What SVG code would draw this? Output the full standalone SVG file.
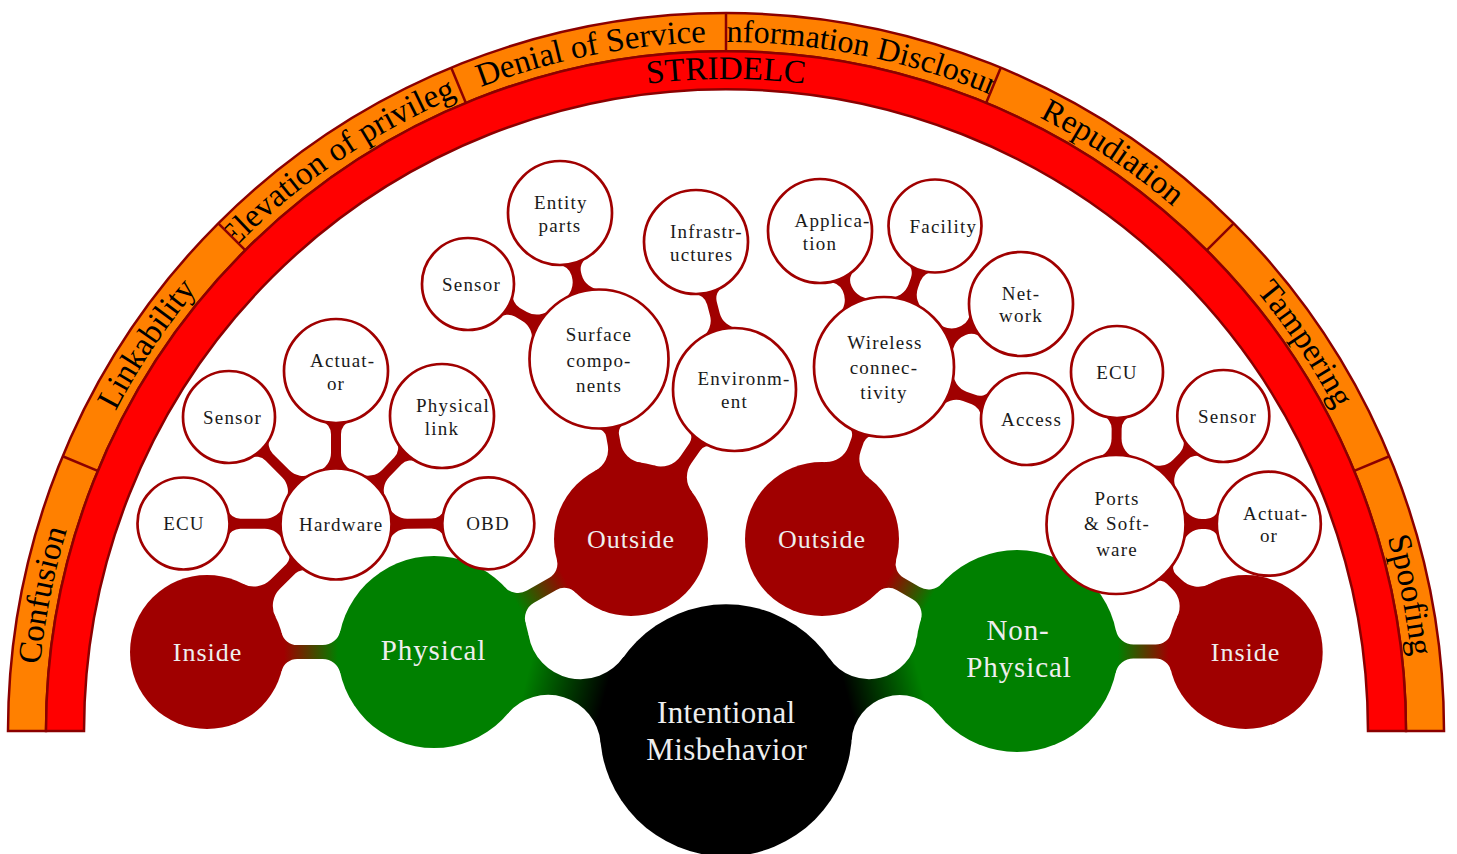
<svg xmlns="http://www.w3.org/2000/svg" width="1457" height="854" viewBox="0 0 1457 854">
<style>
.band-o{fill:#ff8000;stroke:#8b0000;stroke-width:2.5}
.band-r{fill:#ff0000;stroke:#8b0000;stroke-width:2.5}
.sep{stroke:#8b0000;stroke-width:2.5;fill:none}
.rt{font-family:"Liberation Serif",serif;font-size:33px;fill:#000}
.cn{fill:#a00000}
.leaf{fill:#fff;stroke:#a00000;stroke-width:2.7}
.dark{fill:#a00000}
.green{fill:#008000}
.root{fill:#000}
.lt{font-family:"Liberation Serif",serif;font-size:19px;fill:#1a1a1a;letter-spacing:1.2px}
.m{text-anchor:middle}
.dt{font-family:"Liberation Serif",serif;font-size:26px;fill:#eeeeee;letter-spacing:1px;text-anchor:middle}
.gt{font-family:"Liberation Serif",serif;font-size:29px;fill:#eeeeee;letter-spacing:0.9px;text-anchor:middle}
.rtt{font-family:"Liberation Serif",serif;font-size:31px;fill:#eeeeee;letter-spacing:0.4px;text-anchor:middle}
</style>
<defs>
<path id="tp0" d="M 37,731 A 689 689 0 0 1 89.45,467.33"/>
<path id="tp1" d="M 89.45,467.33 A 689 689 0 0 1 238.8,243.8"/>
<path id="tp2" d="M 238.8,243.8 A 689 689 0 0 1 462.33,94.45"/>
<path id="tp3" d="M 462.33,94.45 A 689 689 0 0 1 726,42"/>
<path id="tp4" d="M 726,42 A 689 689 0 0 1 989.67,94.45"/>
<path id="tp5" d="M 989.67,94.45 A 689 689 0 0 1 1213.2,243.8"/>
<path id="tp6" d="M 1213.2,243.8 A 689 689 0 0 1 1362.55,467.33"/>
<path id="tp7" d="M 1362.55,467.33 A 689 689 0 0 1 1415,731"/>
<path id="tpS" d="M 400,166.35 A 652 652 0 0 1 1052,166.35"/>
<clipPath id="clipE"><path d="M 218.3,223.3 A 718 718 0 0 1 451.24,67.65 L 465.78,102.76 A 680 680 0 0 0 245.17,250.17 Z"/></clipPath>
<clipPath id="clipI"><path d="M 726,13 A 718 718 0 0 1 1000.76,67.65 L 986.22,102.76 A 680 680 0 0 0 726,51 Z"/></clipPath>
<linearGradient id="g1" gradientUnits="userSpaceOnUse" x1="126" y1="0" x2="206" y2="0"><stop offset="0" stop-color="#000"/><stop offset="1" stop-color="#008000"/></linearGradient>
<linearGradient id="g2" gradientUnits="userSpaceOnUse" x1="126" y1="0" x2="200.6" y2="0"><stop offset="0" stop-color="#000"/><stop offset="1" stop-color="#008000"/></linearGradient>
<linearGradient id="g3" gradientUnits="userSpaceOnUse" x1="96" y1="0" x2="150" y2="0"><stop offset="0" stop-color="#008000"/><stop offset="1" stop-color="#a00000"/></linearGradient>
<linearGradient id="g4" gradientUnits="userSpaceOnUse" x1="96" y1="0" x2="150.1" y2="0"><stop offset="0" stop-color="#008000"/><stop offset="1" stop-color="#a00000"/></linearGradient>
<linearGradient id="g5" gradientUnits="userSpaceOnUse" x1="101" y1="0" x2="147.9" y2="0"><stop offset="0" stop-color="#008000"/><stop offset="1" stop-color="#a00000"/></linearGradient>
<linearGradient id="g6" gradientUnits="userSpaceOnUse" x1="101" y1="0" x2="151.7" y2="0"><stop offset="0" stop-color="#008000"/><stop offset="1" stop-color="#a00000"/></linearGradient>
</defs>

<g id="ring">
<path class="band-o" d="M 8,731 A 718 718 0 0 1 1444,731 L 1406,731 A 680 680 0 0 0 46,731 Z"/>
<path class="band-r" d="M 46,731 A 680 680 0 0 1 1406,731 L 1368,731 A 642 642 0 0 0 84,731 Z"/>
<text class="rt" text-anchor="middle"><textPath href="#tp0" startOffset="50%">Confusion</textPath></text>
<text class="rt" text-anchor="middle"><textPath href="#tp1" startOffset="50%">Linkability</textPath></text>
<g clip-path="url(#clipE)"><text class="rt" text-anchor="middle"><textPath href="#tp2" startOffset="50%">Elevation of privilege</textPath></text></g>
<text class="rt" text-anchor="middle"><textPath href="#tp3" startOffset="50%">Denial of Service</textPath></text>
<g clip-path="url(#clipI)"><text class="rt" text-anchor="middle" style="font-size:32px"><textPath href="#tp4" startOffset="51.3%">Information Disclosure</textPath></text></g>
<text class="rt" text-anchor="middle"><textPath href="#tp5" startOffset="50%">Repudiation</textPath></text>
<text class="rt" text-anchor="middle"><textPath href="#tp6" startOffset="50%">Tampering</textPath></text>
<text class="rt" text-anchor="middle"><textPath href="#tp7" startOffset="50%">Spoofing</textPath></text>
<text class="rt" text-anchor="middle"><textPath href="#tpS" startOffset="50%">STRIDELC</textPath></text>
<path class="sep" d="M 97.76,470.78 L 62.65,456.24 M 245.17,250.17 L 218.3,223.3 M 465.78,102.76 L 451.24,67.65 M 726,51 L 726,13 M 986.22,102.76 L 1000.76,67.65 M 1206.83,250.17 L 1233.7,223.3 M 1354.24,470.78 L 1389.35,456.24"/>
</g>

<g id="connectors">
<g transform="translate(726,730.3) rotate(-165)"><path fill="url(#g1)" d="M 117.96,-44.21 A 52.7 52.7 0 0 0 215.15,-40.48 L 302.3,0 L 215.15,40.48 A 52.7 52.7 0 0 0 117.96,44.21 L 0,0 Z"/></g>
<g transform="translate(726,730.3) rotate(-15.24)"><path fill="url(#g2)" d="M 118.76,-42.1 A 48.2 48.2 0 0 0 208.58,-39.4 L 301.6,0 L 208.58,39.4 A 48.2 48.2 0 0 0 118.76,42.1 L 0,0 Z"/></g>
<g transform="translate(434,652) rotate(180)"><path fill="url(#g3)" d="M 93.66,-21.05 A 18 18 0 0 0 111.22,-7 L 136.89,-7 A 16 16 0 0 0 152.39,-19.04 L 227,0 L 152.39,19.04 A 16 16 0 0 0 136.89,7 L 111.22,7 A 18 18 0 0 0 93.66,21.05 L 0,0 Z"/></g>
<g transform="translate(434,652) rotate(-29.84)"><path fill="url(#g4)" d="M 93.66,-21.05 A 18 18 0 0 0 111.22,-7 L 136.99,-7 A 16 16 0 0 0 152.49,-19.04 L 227.1,0 L 152.49,19.04 A 16 16 0 0 0 136.99,7 L 111.22,7 A 18 18 0 0 0 93.66,21.05 L 0,0 Z"/></g>
<g transform="translate(1017,651) rotate(-150.13)"><path fill="url(#g5)" d="M 98.74,-21.22 A 18 18 0 0 0 116.34,-7 L 134.79,-7 A 16 16 0 0 0 150.29,-19.04 L 224.9,0 L 150.29,19.04 A 16 16 0 0 0 134.79,7 L 116.34,7 A 18 18 0 0 0 98.74,21.22 L 0,0 Z"/></g>
<g transform="translate(1017,651) rotate(0.25)"><path fill="url(#g6)" d="M 98.74,-21.22 A 18 18 0 0 0 116.34,-7 L 138.59,-7 A 16 16 0 0 0 154.09,-19.04 L 228.7,0 L 154.09,19.04 A 16 16 0 0 0 138.59,7 L 116.34,7 A 18 18 0 0 0 98.74,21.22 L 0,0 Z"/></g>
<g class="cn">
<path transform="translate(207,652) rotate(-44.78)" d="M 73.4,-23.25 A 24 24 0 0 0 96.28,-6.5 L 118.34,-6.5 A 10 10 0 0 0 128.02,-13.98 L 181.73,0 L 128.02,13.98 A 10 10 0 0 0 118.34,6.5 L 96.28,6.5 A 24 24 0 0 0 73.4,23.25 L 0,0 Z"/>
<path transform="translate(631,539) rotate(-100.08)" d="M 73.4,-23.25 A 24 24 0 0 0 96.28,-6.5 L 105.05,-6.5 A 10 10 0 0 0 114.83,-14.42 L 182.82,0 L 114.83,14.42 A 10 10 0 0 0 105.05,6.5 L 96.28,6.5 A 24 24 0 0 0 73.4,23.25 L 0,0 Z"/>
<path transform="translate(631,539) rotate(-55.3)" d="M 73.4,-23.25 A 24 24 0 0 0 96.28,-6.5 L 112.26,-6.5 A 10 10 0 0 0 121.99,-14.19 L 181.83,0 L 121.99,14.19 A 10 10 0 0 0 112.26,6.5 L 96.28,6.5 A 24 24 0 0 0 73.4,23.25 L 0,0 Z"/>
<path transform="translate(822,539) rotate(-70.17)" d="M 73.4,-23.25 A 24 24 0 0 0 96.28,-6.5 L 105.06,-6.5 A 10 10 0 0 0 114.84,-14.42 L 182.83,0 L 114.84,14.42 A 10 10 0 0 0 105.06,6.5 L 96.28,6.5 A 24 24 0 0 0 73.4,23.25 L 0,0 Z"/>
<path transform="translate(1245.7,652) rotate(-135.49)" d="M 73.4,-23.25 A 24 24 0 0 0 96.28,-6.5 L 104.1,-6.5 A 10 10 0 0 0 113.88,-14.42 L 181.87,0 L 113.88,14.42 A 10 10 0 0 0 104.1,6.5 L 96.28,6.5 A 24 24 0 0 0 73.4,23.25 L 0,0 Z"/>
<path transform="translate(336,524) rotate(-179.81)" d="M 52.37,-18.38 A 20 20 0 0 0 71.24,-5 L 95.59,-5 A 14 14 0 0 0 108.87,-14.57 L 152.5,0 L 108.87,14.57 A 14 14 0 0 0 95.59,5 L 71.24,5 A 20 20 0 0 0 52.37,18.38 L 0,0 Z"/>
<path transform="translate(336,524) rotate(-135)" d="M 52.37,-18.38 A 20 20 0 0 0 71.24,-5 L 94.41,-5 A 14 14 0 0 0 107.69,-14.57 L 151.32,0 L 107.69,14.57 A 14 14 0 0 0 94.41,5 L 71.24,5 A 20 20 0 0 0 52.37,18.38 L 0,0 Z"/>
<path transform="translate(336,524) rotate(-90)" d="M 52.37,-18.38 A 20 20 0 0 0 71.24,-5 L 89.79,-5 A 14 14 0 0 0 103.2,-14.97 L 153,0 L 103.2,14.97 A 14 14 0 0 0 89.79,5 L 71.24,5 A 20 20 0 0 0 52.37,18.38 L 0,0 Z"/>
<path transform="translate(336,524) rotate(-45.53)" d="M 52.37,-18.38 A 20 20 0 0 0 71.24,-5 L 88.12,-5 A 14 14 0 0 0 101.53,-14.97 L 151.33,0 L 101.53,14.97 A 14 14 0 0 0 88.12,5 L 71.24,5 A 20 20 0 0 0 52.37,18.38 L 0,0 Z"/>
<path transform="translate(336,524) rotate(-0.26)" d="M 52.37,-18.38 A 20 20 0 0 0 71.24,-5 L 95.39,-5 A 14 14 0 0 0 108.67,-14.57 L 152.3,0 L 108.67,14.57 A 14 14 0 0 0 95.39,5 L 71.24,5 A 20 20 0 0 0 52.37,18.38 L 0,0 Z"/>
<path transform="translate(599,359) rotate(-150.21)" d="M 66.73,-19.41 A 20 20 0 0 0 85.94,-5 L 94.04,-5 A 14 14 0 0 0 107.32,-14.57 L 150.95,0 L 107.32,14.57 A 14 14 0 0 0 94.04,5 L 85.94,5 A 20 20 0 0 0 66.73,19.41 L 0,0 Z"/>
<path transform="translate(599,359) rotate(-104.96)" d="M 66.73,-19.41 A 20 20 0 0 0 85.94,-5 L 87.91,-5 A 14 14 0 0 0 101.32,-14.97 L 151.12,0 L 101.32,14.97 A 14 14 0 0 0 87.91,5 L 85.94,5 A 20 20 0 0 0 66.73,19.41 L 0,0 Z"/>
<path transform="translate(734.5,389.5) rotate(-104.63)" d="M 58.53,-18.87 A 20 20 0 0 0 77.57,-5 L 89.23,-5 A 14 14 0 0 0 102.64,-14.97 L 152.44,0 L 102.64,14.97 A 14 14 0 0 0 89.23,5 L 77.57,5 A 20 20 0 0 0 58.53,18.87 L 0,0 Z"/>
<path transform="translate(884,367) rotate(-115.2)" d="M 66.73,-19.41 A 20 20 0 0 0 85.94,-5 L 87.1,-5 A 14 14 0 0 0 100.51,-14.97 L 150.31,0 L 100.51,14.97 A 14 14 0 0 0 87.1,5 L 85.94,5 A 20 20 0 0 0 66.73,19.41 L 0,0 Z"/>
<path transform="translate(884,367) rotate(-70.11)" d="M 66.73,-19.41 A 20 20 0 0 0 85.94,-5 L 93.03,-5 A 14 14 0 0 0 106.31,-14.57 L 149.94,0 L 106.31,14.57 A 14 14 0 0 0 93.03,5 L 85.94,5 A 20 20 0 0 0 66.73,19.41 L 0,0 Z"/>
<path transform="translate(884,367) rotate(-24.7)" d="M 66.73,-19.41 A 20 20 0 0 0 85.94,-5 L 87.58,-5 A 14 14 0 0 0 100.99,-14.97 L 150.79,0 L 100.99,14.97 A 14 14 0 0 0 87.58,5 L 85.94,5 A 20 20 0 0 0 66.73,19.41 L 0,0 Z"/>
<path transform="translate(884,367) rotate(19.98)" d="M 66.73,-19.41 A 20 20 0 0 0 85.94,-5 L 95.25,-5 A 14 14 0 0 0 108.53,-14.57 L 152.16,0 L 108.53,14.57 A 14 14 0 0 0 95.25,5 L 85.94,5 A 20 20 0 0 0 66.73,19.41 L 0,0 Z"/>
<path transform="translate(1116,524.5) rotate(-89.62)" d="M 66.73,-19.41 A 20 20 0 0 0 85.94,-5 L 95.59,-5 A 14 14 0 0 0 108.87,-14.57 L 152.5,0 L 108.87,14.57 A 14 14 0 0 0 95.59,5 L 85.94,5 A 20 20 0 0 0 66.73,19.41 L 0,0 Z"/>
<path transform="translate(1116,524.5) rotate(-45.32)" d="M 66.73,-19.41 A 20 20 0 0 0 85.94,-5 L 95.69,-5 A 14 14 0 0 0 108.97,-14.57 L 152.6,0 L 108.97,14.57 A 14 14 0 0 0 95.69,5 L 85.94,5 A 20 20 0 0 0 66.73,19.41 L 0,0 Z"/>
<path transform="translate(1116,524.5) rotate(-0.3)" d="M 66.73,-19.41 A 20 20 0 0 0 85.94,-5 L 89.59,-5 A 14 14 0 0 0 103,-14.97 L 152.8,0 L 103,14.97 A 14 14 0 0 0 89.59,5 L 85.94,5 A 20 20 0 0 0 66.73,19.41 L 0,0 Z"/>
</g>
</g>

<g id="n-root"><circle class="root" cx="726" cy="730.3" r="126"/><text class="rtt" x="726.3" y="722.7">Intentional</text><text class="rtt" x="726.8" y="760">Misbehavior</text></g>
<g id="n-physical"><circle class="green" cx="434" cy="652" r="96"/><text class="gt" x="433.5" y="660">Physical</text></g>
<g id="n-inside-l"><circle class="dark" cx="207" cy="652" r="77"/><text class="dt" x="207.5" y="660.7">Inside</text></g>
<g id="n-hardware"><circle class="leaf" cx="336" cy="524" r="55.5"/><text class="lt" x="299" y="530.5">Hardware</text></g>
<g id="n-ecu-l"><circle class="leaf" cx="183.5" cy="523.5" r="46"/><text class="lt m" x="184" y="530">ECU</text></g>
<g id="n-sensor-l"><circle class="leaf" cx="229" cy="417" r="46"/><text class="lt" x="203" y="423.5">Sensor</text></g>
<g id="n-actuator-l"><circle class="leaf" cx="336" cy="371" r="52"/><text class="lt" x="310" y="367">Actuat-</text><text class="lt m" x="336" y="389.5">or</text></g>
<g id="n-physlink"><circle class="leaf" cx="442" cy="416" r="52"/><text class="lt" x="416" y="412">Physical</text><text class="lt m" x="442" y="434.5">link</text></g>
<g id="n-obd"><circle class="leaf" cx="488.3" cy="523.3" r="46"/><text class="lt m" x="488" y="530">OBD</text></g>
<g id="n-outside-l"><circle class="dark" cx="631" cy="539" r="77"/><text class="dt" x="631" y="548">Outside</text></g>
<g id="n-surface"><circle class="leaf" cx="599" cy="359" r="69.5"/><text class="lt m" x="599" y="341">Surface</text><text class="lt m" x="599" y="366.5">compo-</text><text class="lt m" x="599" y="391.7">nents</text></g>
<g id="n-sensor-s"><circle class="leaf" cx="468" cy="284" r="46"/><text class="lt" x="442" y="290.5">Sensor</text></g>
<g id="n-entity"><circle class="leaf" cx="560" cy="213" r="52"/><text class="lt" x="534" y="209">Entity</text><text class="lt m" x="560" y="231.5">parts</text></g>
<g id="n-environment"><circle class="leaf" cx="734.5" cy="389.5" r="61.5"/><text class="lt" x="697.5" y="385">Environm-</text><text class="lt m" x="734.5" y="408">ent</text></g>
<g id="n-infra"><circle class="leaf" cx="696" cy="242" r="52"/><text class="lt" x="670" y="238">Infrastr-</text><text class="lt" x="670" y="261">uctures</text></g>
<g id="n-nonphysical"><circle class="green" cx="1017" cy="651" r="101"/><text class="gt" x="1018" y="640">Non-</text><text class="gt" x="1019" y="676.7">Physical</text></g>
<g id="n-outside-r"><circle class="dark" cx="822" cy="539" r="77"/><text class="dt" x="822" y="548">Outside</text></g>
<g id="n-wireless"><circle class="leaf" cx="884" cy="367" r="70"/><text class="lt m" x="885" y="348.5">Wireless</text><text class="lt m" x="884" y="373.5">connec-</text><text class="lt m" x="884" y="398.5">tivity</text></g>
<g id="n-application"><circle class="leaf" cx="820" cy="231" r="52"/><text class="lt" x="794.5" y="227">Applica-</text><text class="lt m" x="820" y="249.5">tion</text></g>
<g id="n-facility"><circle class="leaf" cx="935" cy="226" r="46.5"/><text class="lt" x="909.5" y="232.5">Facility</text></g>
<g id="n-network"><circle class="leaf" cx="1021" cy="304" r="52"/><text class="lt m" x="1021" y="299.5">Net-</text><text class="lt m" x="1021" y="322">work</text></g>
<g id="n-access"><circle class="leaf" cx="1027" cy="419" r="46"/><text class="lt" x="1001" y="425.5">Access</text></g>
<g id="n-inside-r"><circle class="dark" cx="1245.7" cy="652" r="77"/><text class="dt" x="1245.5" y="660.7">Inside</text></g>
<g id="n-ports"><circle class="leaf" cx="1116" cy="524.5" r="69.5"/><text class="lt m" x="1117" y="505">Ports</text><text class="lt m" x="1117" y="530">&amp; Soft-</text><text class="lt m" x="1117" y="555.5">ware</text></g>
<g id="n-ecu-r"><circle class="leaf" cx="1117" cy="372" r="46"/><text class="lt m" x="1117" y="378.5">ECU</text></g>
<g id="n-sensor-r"><circle class="leaf" cx="1223.3" cy="416" r="46"/><text class="lt" x="1198" y="422.5">Sensor</text></g>
<g id="n-actuator-r"><circle class="leaf" cx="1268.8" cy="523.7" r="52"/><text class="lt" x="1243" y="519.5">Actuat-</text><text class="lt m" x="1269" y="542">or</text></g>
</svg>
